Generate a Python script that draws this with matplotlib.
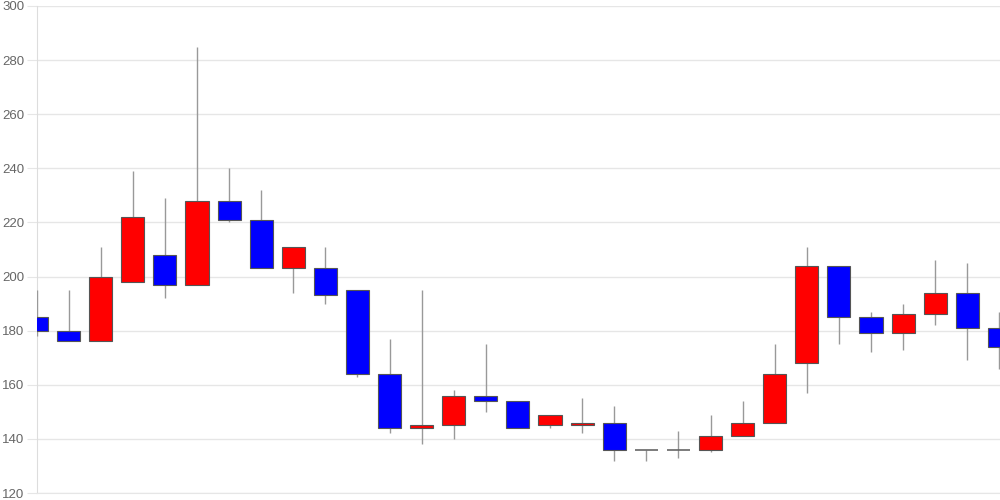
import numpy as np
import matplotlib
matplotlib.use("Agg")
import matplotlib.pyplot as plt

plt.rcParams["font.family"] = ["Liberation Sans", "DejaVu Sans"]

# ── daily OHLC values ───────────────────────────────────────────────────────
opens  = [185, 180, 176, 198, 208, 197, 228, 221, 203, 203, 195, 164, 144, 145, 156, 154,
          145, 145, 146, 136, 136, 136, 141, 146, 168, 204, 185, 179, 186, 194, 181]
closes = [180, 176, 200, 222, 197, 228, 221, 203, 211, 193, 164, 144, 145, 156, 154, 144,
          149, 146, 136, 136, 136, 141, 146, 164, 204, 185, 179, 186, 194, 181, 174]
highs  = [195, 195, 211, 239, 229, 285, 240, 232, 211, 211, 195, 177, 195, 158, 175, 154,
          149, 155, 152, 136, 143, 149, 154, 175, 211, 204, 187, 190, 206, 205, 187]
lows   = [178, 176, 176, 198, 192, 197, 220, 203, 194, 190, 163, 142, 138, 140, 150, 144,
          144, 142, 132, 132, 133, 135, 141, 146, 157, 175, 172, 173, 182, 169, 166]

UP, DOWN = "#ff0000", "#0000ff"
WICK, EDGE = "#999999", "#555555"

fig = plt.figure(figsize=(10, 5), dpi=100)
ax = fig.add_axes([0.0365, 0.014, 0.9635, 0.974])

x = np.arange(len(opens))
w = 0.72
for i in x:
    o, c, h, l = opens[i], closes[i], highs[i], lows[i]
    ax.vlines(i, l, h, color=WICK, linewidth=1, zorder=2)
    if o == c:
        # doji: open == close, drawn as a flat dark line
        ax.hlines(o, i - w / 2, i + w / 2, color="#666666", linewidth=1.2, zorder=3)
        continue
    col = UP if c > o else DOWN
    ax.bar(i, abs(c - o), w, bottom=min(o, c), color=col,
           edgecolor=EDGE, linewidth=0.8, zorder=3)

ax.set_xlim(0, len(opens) - 0.98)
ax.set_ylim(120, 300)
ax.set_yticks(np.arange(120, 301, 20))
ax.set_xticks([])
ax.grid(axis="y", color="#e6e6e6", linewidth=1, zorder=0)
ax.set_axisbelow(True)
for s in ["top", "right"]:
    ax.spines[s].set_visible(False)
ax.spines["left"].set_color("#dddddd")
ax.spines["left"].set_zorder(1)
ax.spines["bottom"].set_color("#e6e6e6")
ax.tick_params(axis="y", length=7.5, color="#e6e6e6", labelcolor="#666666",
               labelsize=9.5, pad=1)

fig.savefig("out.png", dpi=100)
